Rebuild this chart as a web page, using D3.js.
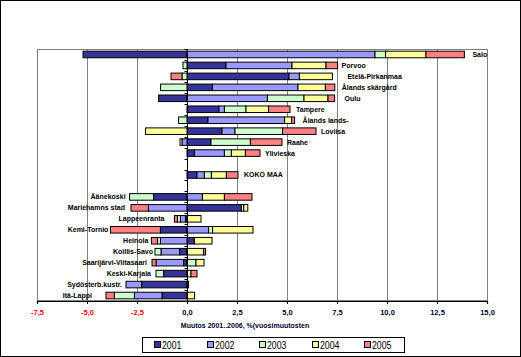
<!DOCTYPE html>
<html>
<head>
<meta charset="utf-8">
<script src="https://cdn.jsdelivr.net/npm/d3@7/dist/d3.min.js"></script>
<style>
  html, body { margin: 0; padding: 0; background: #fff; }
  svg { display: block; }
  text { font-family: "Liberation Sans", Arial, sans-serif; }
</style>
</head>
<body>
<svg id="chart" width="521" height="357"></svg>
<script>
// ---- data ----
const categories = ["Salo","Porvoo","Etelä-Pirkanmaa","Ålands skärgård","Oulu","Tampere","Ålands lands-","Loviisa","Raahe","Ylivieska","","KOKO MAA","","Äänekoski","Mariehamns stad","Lappeenranta","Kemi-Tornio","Heinola","Koillis-Savo","Saarijärvi-Viitasaari","Keski-Karjala","Sydösterb.kustr.","Itä-Lappi"];
const years = ["2001","2002","2003","2004","2005"];
const v2001 = [-5.2, 1.95, 5.1, 1.27, -1.42, 1.6, 1.05, 1.75, 1.2, 0.37, null, 0.5, null, -1.67, 2.72, -0.08, -1.33, 0.37, -0.37, -0.17, -1.17, -2.27, -1.25];
const v2002 = [9.4, 3.3, 0.52, 4.28, 4.02, 0.27, 3.83, 0.65, -0.25, 1.5, null, 0.37, null, 0.77, -1.93, -0.25, 1.08, -1.33, -0.93, -1.38, 0, -0.78, -1.38];
const v2003 = [0.53, -0.2, -0.25, -1.32, 1.83, 1.08, -0.42, 2.38, 1.97, 0.35, null, 0.35, null, -1.2, 0.12, -0.15, 0.2, -0.15, -0.3, 0.45, -0.38, 0.08, -1.0];
const v2004 = [2.02, 1.7, 1.65, 1.37, 1.2, 1.13, 0.35, -2.07, -0.1, 0.7, null, 0.75, null, 1.1, 0.2, 0.7, 2.02, 0.88, 0.83, 0.4, 0.2, 0, 0.38];
const v2005 = [1.92, 0.58, -0.55, 0.47, 0.33, 1.07, 0.15, 1.67, 1.58, 0.73, null, 0.58, null, 1.38, -0.87, -0.15, -2.5, -0.3, 0.1, -0.2, 0.3, 0, -0.42];
const xTicks = [-7.5, -5, -2.5, 0, 2.5, 5, 7.5, 10, 12.5, 15];
const xTitle = "Muutos  2001..2006, %(vuosimuutosten";

// ---- layout (not data) ----
const colors = ["#333399", "#9999FF", "#CCFFCC", "#FFFF99", "#FF8080"];
const labelGap = [8,4,15,7,10,6,8,5,5,5,0,6,0,4,6,10,2,3,2,5,5,4,14];

const seriesVals = [v2001, v2002, v2003, v2004, v2005];
const rows = categories.map((c, i) => {
  const r = { idx: i, name: c };
  years.forEach((yr, k) => { r[yr] = seriesVals[k][i] == null ? 0 : seriesVals[k][i]; });
  return r;
});

const svg = d3.select("#chart");
svg.append("rect").attr("x", 0.5).attr("y", 0.5).attr("width", 520).attr("height", 356)
  .attr("fill", "#fff").attr("stroke", "#000").attr("stroke-width", 1);

const x = d3.scaleLinear().domain([-7.5, 15]).range([37, 487]);
const y = d3.scaleBand().domain(d3.range(categories.length)).range([49, 301])
  .paddingInner(0.4).paddingOuter(0.2);

// plot border + grid
svg.append("rect").attr("x", x(-7.5) + 0.5).attr("y", 49.5)
  .attr("width", x(15) - x(-7.5)).attr("height", 251)
  .attr("fill", "none").attr("stroke", "#808080").attr("stroke-width", 1);
svg.append("g").selectAll("line").data(xTicks.filter(t => t !== 0 && t !== -7.5 && t !== 15)).join("line")
  .attr("x1", d => Math.round(x(d)) + 0.5).attr("x2", d => Math.round(x(d)) + 0.5)
  .attr("y1", 49).attr("y2", 301)
  .attr("stroke", "#808080").attr("stroke-width", 1);

// stacked bars
const stack = d3.stack().keys(years).offset(d3.stackOffsetDiverging);
const stacked = stack(rows);
const gBars = svg.append("g");
stacked.forEach((layer, k) => {
  gBars.append("g").selectAll("rect")
    .data(layer.filter(d => Math.abs(d[1] - d[0]) > 1e-9))
    .join("rect")
    .attr("x", d => x(Math.min(d[0], d[1])))
    .attr("y", d => y(d.data.idx))
    .attr("width", d => Math.abs(x(d[1]) - x(d[0])))
    .attr("height", y.bandwidth())
    .attr("fill", colors[k])
    .attr("stroke", "#000").attr("stroke-width", 1);
});

// zero line with category ticks
const x0 = Math.round(x(0)) + 0.5;
svg.append("line").attr("x1", x0).attr("x2", x0).attr("y1", 49).attr("y2", 301)
  .attr("stroke", "#000").attr("stroke-width", 1);
svg.append("g").selectAll("line").data(d3.range(categories.length + 1)).join("line")
  .attr("x1", x0 - 3).attr("x2", x0)
  .attr("y1", i => Math.round(49 + i * 252 / categories.length) + 0.5)
  .attr("y2", i => Math.round(49 + i * 252 / categories.length) + 0.5)
  .attr("stroke", "#000");

// x axis
const xAxis = d3.axisBottom(x).tickValues(xTicks).tickSize(3)
  .tickFormat(d => d3.format(".1f")(d).replace(".", ",").replace("−", "-"));
const gx = svg.append("g").attr("transform", "translate(0,301)").call(xAxis);
gx.select(".domain").attr("stroke", "#000").attr("stroke-width", 1.2);
gx.selectAll(".tick line").attr("stroke", "#000");
gx.selectAll(".tick text")
  .attr("y", 9)
  .attr("font-size", 7.5).attr("font-weight", "bold")
  .attr("font-family", "'Liberation Sans', Arial, sans-serif")
  .attr("fill", d => d < 0 ? "#FF0000" : "#000033");

svg.append("text").attr("x", 245).attr("y", 328).attr("text-anchor", "middle")
  .attr("font-size", 7).attr("font-weight", "bold").attr("fill", "#000033")
  .text(xTitle);

// category labels
const kokoIdx = categories.indexOf("KOKO MAA");
const gLab = svg.append("g");
rows.forEach((r, i) => {
  if (!r.name) return;
  const vals = years.map(yr => r[yr]);
  const pos = d3.sum(vals.filter(v => v > 0));
  const neg = d3.sum(vals.filter(v => v < 0));
  const right = i <= kokoIdx;
  gLab.append("text")
    .attr("x", right ? x(pos) + labelGap[i] : x(neg) - labelGap[i])
    .attr("y", y(i) + y.bandwidth() / 2)
    .attr("dy", "0.35em")
    .attr("text-anchor", right ? "start" : "end")
    .attr("font-size", 7).attr("font-weight", "bold").attr("fill", "#000")
    .text(r.name);
});

// legend
const lg = svg.append("g");
lg.append("rect").attr("x", 142.5).attr("y", 337.5).attr("width", 262).attr("height", 15)
  .attr("fill", "#fff").attr("stroke", "#000").attr("stroke-width", 1);
years.forEach((yr, k) => {
  const lx = 154 + k * 52.5;
  lg.append("rect").attr("x", Math.round(lx) + 0.5).attr("y", 341.5).attr("width", 6).attr("height", 6)
    .attr("fill", colors[k]).attr("stroke", "#000").attr("stroke-width", 1);
  lg.append("text").attr("x", Math.round(lx) + 8).attr("y", 349)
    .attr("font-size", 11).attr("fill", "#000")
    .attr("textLength", 19.5).attr("lengthAdjust", "spacingAndGlyphs")
    .text(yr);
});
</script>
</body>
</html>
